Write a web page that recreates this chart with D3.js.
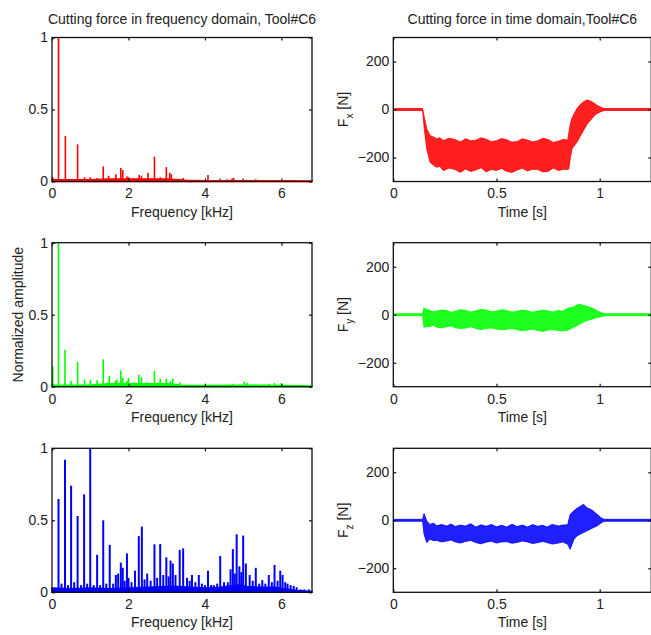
<!DOCTYPE html>
<html>
<head>
<meta charset="utf-8">
<script src="https://cdn.jsdelivr.net/npm/d3@7"></script>
<style>
  body { margin: 0; background: #fff; }
  svg text { font-family: "Liberation Sans", Arial, sans-serif; fill: #222; }
</style>
</head>
<body>
<div id="chart"></div>
<script>
// tick labels
var freqTicks = [0, 2, 4, 6];
var ampTicks = [0, 0.5, 1];
var timeTicks = [0, 0.5, 1];
var forceTicks = [-200, 0, 200];

// spectrum peaks (kHz, normalized amplitude) and the low floor under them
var redPeakFreq = [0.02, 0.17, 0.35, 0.67, 0.85, 1.0, 1.18, 1.34, 1.48, 1.67, 1.80, 1.85, 1.96, 2.0, 2.14, 2.28, 2.34, 2.51, 2.68, 2.83, 2.99, 3.08, 3.12, 3.43, 3.7, 4.0, 4.08, 4.4, 4.58, 4.71, 4.75, 5.0, 5.33, 5.62, 6.0];
var redPeakAmp = [0.03, 1.0, 0.316, 0.258, 0.03, 0.03, 0.025, 0.105, 0.04, 0.05, 0.093, 0.08, 0.035, 0.03, 0.02, 0.045, 0.04, 0.06, 0.172, 0.03, 0.1, 0.06, 0.05, 0.025, 0.01, 0.01, 0.045, 0.02, 0.015, 0.02, 0.025, 0.02, 0.015, 0.01, 0.008];
var redFloorFreq = [0, 1, 1.5, 2, 3, 3.5, 4, 5, 6, 6.8];
var redFloorAmp = [0.012, 0.012, 0.018, 0.018, 0.018, 0.008, 0.006, 0.006, 0.005, 0.004];

var greenPeakFreq = [0.02, 0.17, 0.34, 0.5, 0.67, 0.85, 1.0, 1.18, 1.34, 1.5, 1.66, 1.7, 1.8, 1.85, 1.96, 2.0, 2.16, 2.27, 2.34, 2.49, 2.68, 2.83, 2.99, 3.1, 3.16, 3.34, 3.53, 4.0, 4.4, 4.72, 5.03, 5.1, 5.32, 5.54, 5.67, 5.82, 6.0, 6.23, 6.5];
var greenPeakAmp = [0.14, 1.0, 0.256, 0.04, 0.172, 0.05, 0.045, 0.045, 0.19, 0.075, 0.04, 0.05, 0.112, 0.06, 0.04, 0.06, 0.03, 0.085, 0.065, 0.03, 0.112, 0.055, 0.055, 0.04, 0.055, 0.03, 0.01, 0.015, 0.012, 0.02, 0.035, 0.025, 0.015, 0.015, 0.02, 0.025, 0.025, 0.01, 0.008];
var greenFloorFreq = [0, 1, 1.5, 2, 3, 3.4, 4, 5, 6, 6.8];
var greenFloorAmp = [0.01, 0.012, 0.02, 0.02, 0.02, 0.01, 0.008, 0.01, 0.008, 0.005];

var bluePeakFreq = [0.17, 0.25, 0.34, 0.42, 0.5, 0.58, 0.67, 0.76, 0.84, 0.92, 1.0, 1.09, 1.18, 1.26, 1.34, 1.42, 1.51, 1.6, 1.67, 1.73, 1.8, 1.85, 1.9, 1.96, 2.0, 2.08, 2.17, 2.27, 2.35, 2.42, 2.49, 2.58, 2.68, 2.75, 2.83, 2.91, 2.99, 3.05, 3.1, 3.16, 3.23, 3.34, 3.43, 3.53, 3.6, 3.66, 3.75, 3.84, 3.92, 4.0, 4.08, 4.16, 4.23, 4.32, 4.4, 4.5, 4.6, 4.67, 4.73, 4.78, 4.83, 4.9, 4.95, 5.0, 5.07, 5.17, 5.25, 5.33, 5.42, 5.5, 5.58, 5.67, 5.75, 5.82, 5.9, 5.97, 6.03, 6.1, 6.16, 6.24, 6.32, 6.4, 6.5, 6.6, 6.72];
var bluePeakAmp = [0.648, 0.06, 0.92, 0.05, 0.74, 0.07, 0.53, 0.05, 0.68, 0.06, 1.0, 0.05, 0.26, 0.05, 0.5, 0.06, 0.33, 0.06, 0.12, 0.13, 0.206, 0.17, 0.08, 0.27, 0.1, 0.07, 0.15, 0.39, 0.456, 0.09, 0.13, 0.08, 0.333, 0.1, 0.335, 0.12, 0.243, 0.11, 0.22, 0.2, 0.12, 0.294, 0.305, 0.1, 0.08, 0.12, 0.07, 0.12, 0.06, 0.05, 0.15, 0.05, 0.05, 0.06, 0.252, 0.07, 0.07, 0.16, 0.3, 0.13, 0.403, 0.18, 0.14, 0.394, 0.2, 0.12, 0.08, 0.17, 0.06, 0.085, 0.06, 0.12, 0.07, 0.19, 0.08, 0.15, 0.12, 0.07, 0.06, 0.05, 0.045, 0.035, 0.02, 0.02, 0.02];
var blueFloorFreq = [0, 0.5, 1, 1.5, 2, 2.5, 3, 3.3, 3.6, 4, 4.4, 4.7, 4.9, 5.1, 5.4, 5.8, 6.1, 6.4, 6.8];
var blueFloorAmp = [0.03, 0.025, 0.03, 0.025, 0.03, 0.035, 0.04, 0.04, 0.035, 0.03, 0.035, 0.045, 0.05, 0.04, 0.035, 0.035, 0.025, 0.012, 0.006];

// time signals: upper / lower envelope of the oscillating force (s, N)
var fxTime = [0, 0.142, 0.15, 0.162, 0.178, 0.195, 0.21, 0.225, 0.243, 0.27, 0.3, 0.325, 0.35, 0.375, 0.4, 0.425, 0.45, 0.475, 0.5, 0.525, 0.55, 0.575, 0.6, 0.625, 0.65, 0.675, 0.7, 0.725, 0.75, 0.775, 0.8, 0.825, 0.845, 0.85, 0.858, 0.866, 0.878, 0.89, 0.905, 0.922, 0.938, 0.955, 0.97, 0.987, 1.011, 1.025, 1.25];
var fxUpper = [4, 4, -31, -80, -108, -115, -122, -118, -129, -120, -125, -135, -122, -130, -128, -118, -124, -134, -130, -121, -126, -136, -133, -122, -127, -135, -130, -120, -125, -137, -132, -124, -128, -100, -59, -35, -15, 4, 20, 32, 40, 35, 28, 18, 7, 4, 4];
var fxLower = [-4, -4, -80, -164, -220, -232, -241, -236, -255, -244, -250, -262, -248, -258, -252, -243, -260, -250, -254, -246, -258, -262, -252, -245, -256, -249, -250, -260, -258, -244, -254, -249, -250, -248, -200, -164, -150, -136, -112, -87, -62, -45, -30, -17, -7, -4, -4];

var fyTime = [0, 0.142, 0.148, 0.16, 0.178, 0.195, 0.21, 0.235, 0.26, 0.28, 0.3, 0.325, 0.35, 0.375, 0.4, 0.425, 0.45, 0.475, 0.5, 0.525, 0.55, 0.575, 0.6, 0.625, 0.65, 0.675, 0.7, 0.725, 0.745, 0.77, 0.8, 0.82, 0.84, 0.857, 0.874, 0.89, 0.906, 0.922, 0.94, 0.955, 0.97, 0.985, 1.0, 1.025, 1.25];
var fyUpper = [4, 4, 29, 22, 18, 12, 15, 20, 17, 10, 14, 21, 18, 11, 16, 22, 19, 12, 15, 21, 17, 11, 14, 20, 16, 10, 15, 19, 17, 11, 18, 14, 25, 30, 32, 41, 43, 38, 35, 30, 25, 18, 11, 4, 4];
var fyLower = [-4, -4, -52, -50, -49, -44, -52, -55, -50, -47, -54, -58, -56, -50, -58, -62, -57, -55, -60, -63, -61, -57, -63, -67, -64, -60, -66, -70, -65, -62, -66, -68, -66, -60, -52, -46, -38, -30, -24, -20, -17, -12, -10, -4, -4];

var fzTime = [0, 0.142, 0.149, 0.162, 0.178, 0.195, 0.21, 0.235, 0.26, 0.28, 0.3, 0.325, 0.35, 0.375, 0.4, 0.425, 0.45, 0.475, 0.5, 0.525, 0.55, 0.575, 0.6, 0.625, 0.65, 0.675, 0.7, 0.725, 0.745, 0.77, 0.8, 0.82, 0.845, 0.857, 0.875, 0.89, 0.905, 0.922, 0.938, 0.955, 0.97, 0.987, 1.005, 1.02, 1.25];
var fzUpper = [4, 4, 28, -3, -17, -12, -22, -18, -24, -15, -26, -20, -24, -14, -28, -19, -25, -17, -27, -21, -28, -16, -26, -20, -28, -18, -25, -21, -28, -17, -24, -20, -19, 25, 40, 50, 58, 67, 52, 46, 38, 25, 12, 4, 4];
var fzLower = [-4, -4, -58, -93, -79, -85, -84, -90, -86, -82, -90, -95, -88, -84, -93, -98, -91, -87, -95, -90, -89, -96, -92, -86, -90, -97, -93, -88, -93, -99, -95, -90, -100, -121, -80, -65, -58, -51, -44, -37, -30, -24, -12, -4, -4];

function init(){

    var w = 651;
    var h = 635;

    var svg = d3.select("#chart")
                .append("svg")
                .attr("width", w)
                .attr("height", h);

    var leftX = 52, leftW = 260;
    var rightX = 393.3, rightW = 258;
    var rowY = [37.5, 242.7, 448.3];
    var rowH = 144;

    // draws the box, inward ticks on all four sides and the labels
    function frame(g, x, y, xTicks, yTicks, xFmt, yFmt, pw, ph){
        g.append("g")
         .attr("transform", "translate(0," + ph + ")")
         .call(d3.axisBottom(x).tickValues(xTicks).tickFormat(xFmt).tickSizeInner(-3).tickSizeOuter(0).tickPadding(7));
        g.append("g")
         .call(d3.axisTop(x).tickValues(xTicks).tickFormat("").tickSizeInner(-3).tickSizeOuter(0));
        g.append("g")
         .call(d3.axisLeft(y).tickValues(yTicks).tickFormat(yFmt).tickSizeInner(-3).tickSizeOuter(0).tickPadding(4));
        g.append("g")
         .attr("transform", "translate(" + pw + ",0)")
         .call(d3.axisRight(y).tickValues(yTicks).tickFormat("").tickSizeInner(-3).tickSizeOuter(0));
        g.selectAll(".domain").remove();
        g.selectAll(".tick line").attr("stroke", "#111").attr("stroke-width", 1.2);
        g.selectAll(".tick text").attr("font-size", 14).attr("fill", "#222")
         .attr("font-family", "'Liberation Sans', Arial, sans-serif");
        g.append("rect")
         .attr("width", pw)
         .attr("height", ph)
         .attr("fill", "none")
         .attr("stroke", "#111")
         .attr("stroke-width", 1.3);
    }

    function spectrum(row, peakF, peakA, floorF, floorA, color, sw){
        var g = svg.append("g").attr("transform", "translate(" + leftX + "," + rowY[row] + ")");
        var x = d3.scaleLinear().domain([0, 6.8]).range([0, leftW]);
        var y = d3.scaleLinear().domain([0, 1]).range([rowH, 0]);

        var floor = floorF.map(function(f, i){ return [f, floorA[i]]; });
        g.append("path")
         .datum(floor)
         .attr("fill", color)
         .attr("stroke", color)
         .attr("stroke-width", 1.5)
         .attr("d", d3.area()
                      .x(function(d){ return x(d[0]); })
                      .y0(y(0))
                      .y1(function(d){ return y(d[1]); }));

        g.selectAll("line.peak")
         .data(peakF.map(function(f, i){ return [f, peakA[i]]; }))
         .enter()
         .append("line")
         .attr("class", "peak")
         .attr("x1", function(d){ return x(d[0]); })
         .attr("x2", function(d){ return x(d[0]); })
         .attr("y1", y(0))
         .attr("y2", function(d){ return y(d[1]); })
         .attr("stroke", color)
         .attr("stroke-width", sw);

        frame(g, x, y, freqTicks, ampTicks, d3.format("~g"), d3.format("~g"), leftW, rowH);

        g.append("text")
         .attr("x", leftW / 2)
         .attr("y", rowH + 35)
         .attr("text-anchor", "middle")
         .attr("font-size", 14)
         .text("Frequency [kHz]");
        return g;
    }

    function force(row, t, up, lo, color, sub){
        var g = svg.append("g").attr("transform", "translate(" + rightX + "," + rowY[row] + ")");
        var x = d3.scaleLinear().domain([0, 1.25]).range([0, rightW]);
        var y = d3.scaleLinear().domain([-300, 300]).range([rowH, 0]);

        g.append("path")
         .datum(t.map(function(v, i){ return [v, up[i], lo[i]]; }))
         .attr("fill", color)
         .attr("fill-opacity", 0.88)
         .attr("stroke", color)
         .attr("stroke-width", 0.8)
         .attr("d", d3.area()
                      .x(function(d){ return x(d[0]); })
                      .y0(function(d){ return y(d[2]); })
                      .y1(function(d){ return y(d[1]); }));

        frame(g, x, y, timeTicks, forceTicks, d3.format("~g"), d3.format("~g"), rightW, rowH);

        g.append("text")
         .attr("x", x(0.625))
         .attr("y", rowH + 35)
         .attr("text-anchor", "middle")
         .attr("font-size", 14)
         .text("Time [s]");

        var lab = g.append("text")
         .attr("transform", "translate(-45," + (rowH / 2) + ") rotate(-90)")
         .attr("text-anchor", "middle")
         .attr("font-size", 14);
        lab.append("tspan").text("F");
        lab.append("tspan").attr("font-size", 10).attr("dy", 5).text(sub);
        lab.append("tspan").attr("dy", -5).text(" [N]");
        return g;
    }

    spectrum(0, redPeakFreq, redPeakAmp, redFloorFreq, redFloorAmp, "#ff0000", 1.6);
    spectrum(1, greenPeakFreq, greenPeakAmp, greenFloorFreq, greenFloorAmp, "#00ff00", 1.6);
    spectrum(2, bluePeakFreq, bluePeakAmp, blueFloorFreq, blueFloorAmp, "#0000ff", 2);

    force(0, fxTime, fxUpper, fxLower, "#ff0000", "x");
    force(1, fyTime, fyUpper, fyLower, "#00ff00", "y");
    force(2, fzTime, fzUpper, fzLower, "#0000ff", "z");

    svg.append("text")
       .attr("x", leftX + leftW / 2)
       .attr("y", 24)
       .attr("text-anchor", "middle")
       .attr("font-size", 14)
       .text("Cutting force in frequency domain, Tool#C6");

    svg.append("text")
       .attr("x", rightX + rightW / 2)
       .attr("y", 24)
       .attr("text-anchor", "middle")
       .attr("font-size", 14)
       .text("Cutting force in time domain,Tool#C6");

    svg.append("text")
       .attr("transform", "translate(23," + (rowY[1] + rowH / 2) + ") rotate(-90)")
       .attr("text-anchor", "middle")
       .attr("font-size", 14)
       .text("Normalized amplitude");
}

window.onload = init;
</script>
</body>
</html>
